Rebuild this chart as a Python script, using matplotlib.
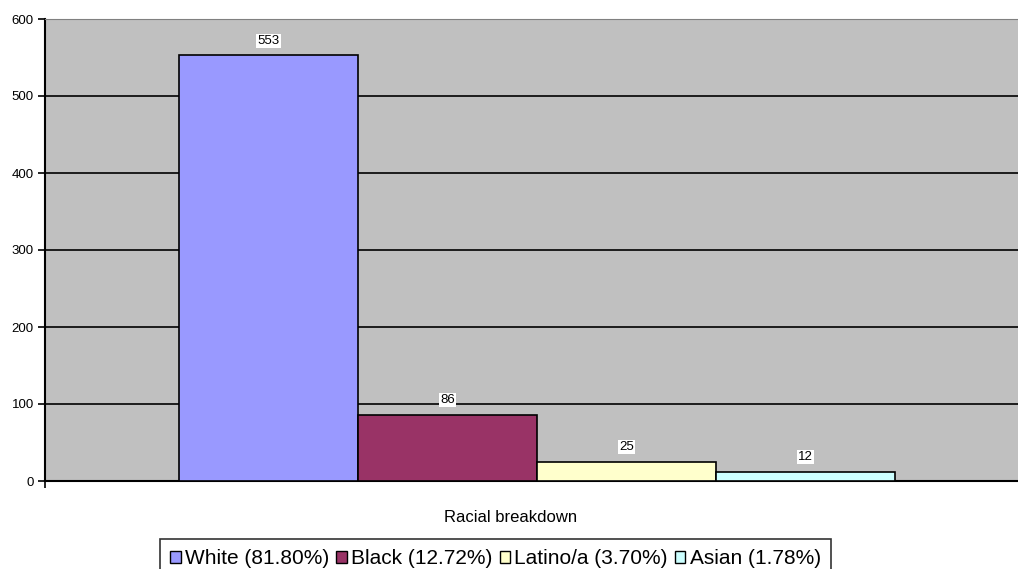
import matplotlib.pyplot as plt
from matplotlib.patches import Patch

groups = ['White', 'Black', 'Latino/a', 'Asian']
counts = [553, 86, 25, 12]
shares = ['81.80%', '12.72%', '3.70%', '1.78%']
colors = ['#9999FF', '#993366', '#FFFFCC', '#CCFFFF']

plt.rcParams['font.family'] = ['Liberation Sans', 'DejaVu Sans']

W, H = 1018, 569
fig = plt.figure(figsize=(W / 100, H / 100), dpi=100)
ax = fig.add_axes([45 / W, (H - 481) / H, (W - 45) / W, 462 / H])
ax.set_facecolor('#C0C0C0')

x = range(len(groups))
bars = ax.bar(x, counts, width=1.0, color=colors, edgecolor='black', linewidth=1.2, zorder=3)
for b, v in zip(bars, counts):
    ax.text(b.get_x() + b.get_width() / 2, v + 11, str(v), ha='center', va='bottom',
            fontsize=9.5, zorder=4,
            bbox=dict(facecolor='white', edgecolor='none', pad=0.8))

ax.set_ylim(0, 600)
ax.set_xlim(-1.249, 4.187)
ax.set_yticks(range(0, 601, 100))
ax.yaxis.grid(True, color='black', linewidth=1.2, zorder=1)
ax.set_axisbelow(True)
ax.tick_params(axis='y', labelsize=9.5, length=5, width=1.2, direction='out', pad=3)
ax.set_xticks([-1.249])
ax.set_xticklabels([''])
ax.tick_params(axis='x', length=5, width=1.2, direction='out')

ax.spines['left'].set_linewidth(1.5)
ax.spines['bottom'].set_linewidth(1.5)
ax.spines['top'].set_color('#808080')
ax.spines['right'].set_visible(False)

fig.text(511 / W, (H - 517) / H, 'Racial breakdown', ha='center', va='center', fontsize=12)

handles = [Patch(facecolor=c, edgecolor='black', linewidth=1.0) for c in colors]
labels = [f'{g} ({s})' for g, s in zip(groups, shares)]
leg = fig.legend(handles, labels, loc='upper center', ncol=4,
                 bbox_to_anchor=(495.5 / W, (H - 539) / H),
                 fontsize=15, frameon=True, fancybox=False, edgecolor='black',
                 handlelength=0.5, handleheight=0.5, handletextpad=0.2,
                 columnspacing=0.35, borderpad=0.5, borderaxespad=0)
leg.get_frame().set_linewidth(1.2)

fig.savefig('out.png', dpi=100)
